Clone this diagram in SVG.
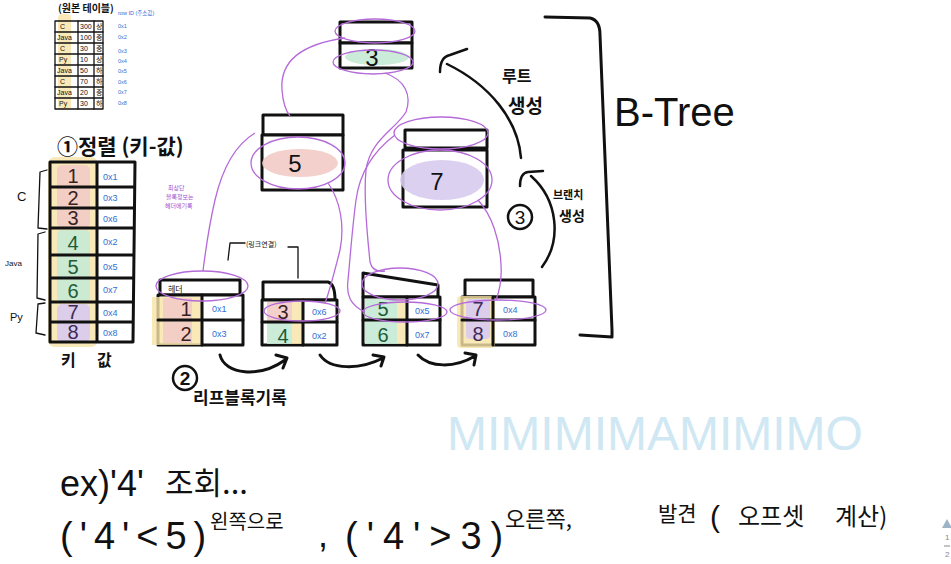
<svg xmlns="http://www.w3.org/2000/svg" width="951" height="564" viewBox="0 0 951 564">
<defs>
<style>
text{font-family:'Liberation Sans','Noto Sans CJK KR',sans-serif;fill:#111}
.ink{fill:none;stroke:#111;stroke-width:3;stroke-linecap:round;stroke-linejoin:round}
.thin{fill:none;stroke:#111;stroke-width:1.3;stroke-linecap:round;stroke-linejoin:round}
.box{fill:#fff;stroke:#111;stroke-width:3;stroke-linejoin:round}
.pl{fill:none;stroke:#b56ad9;stroke-width:1.3}
.yel{fill:#f7e2a6;opacity:.8}
.pink{fill:#f2cbc6;opacity:.9}
.green{fill:#c5ead4;opacity:.9}
.purp{fill:#d8cbef;opacity:.9}
.val{fill:#2f6fd6;font-size:9px}
.key{font-size:20px;text-anchor:middle}
.k1{fill:#3a1f1f}.k2{fill:#1d5c39}.k3{fill:#3c2a57}
.sm{font-size:7px}
.kr{font-family:'Noto Sans CJK KR',sans-serif}
</style>
</defs>
<rect width="951" height="564" fill="#fff"/>

<!-- source table -->
<g id="src-table">
<text x="58" y="12" class="kr" style="font-size:10px;font-weight:bold">(원본 테이블)</text>
<rect class="yel" x="58" y="14" width="13" height="96" rx="4"/>
<rect class="thin" x="55" y="21" width="48" height="88"/>
<path class="thin" d="M78,21V109M94,21V109M55,32H103M55,43H103M55,54H103M55,65H103M55,76H103M55,87H103M55,98H103"/>
<g style="font-size:7px">
<text x="60" y="29">C</text><text x="80" y="29">300</text><text x="96" y="29" class="kr">상</text>
<text x="57" y="40">Java</text><text x="80" y="40">100</text><text x="96" y="40" class="kr">중</text>
<text x="60" y="51">C</text><text x="80" y="51">30</text><text x="96" y="51" class="kr">중</text>
<text x="59" y="62">Py</text><text x="80" y="62">10</text><text x="96" y="62" class="kr">상</text>
<text x="57" y="73">Java</text><text x="80" y="73">50</text><text x="96" y="73" class="kr">하</text>
<text x="60" y="84">C</text><text x="80" y="84">70</text><text x="96" y="84" class="kr">하</text>
<text x="57" y="95">Java</text><text x="80" y="95">20</text><text x="96" y="95" class="kr">중</text>
<text x="59" y="106">Py</text><text x="80" y="106">30</text><text x="96" y="106" class="kr">하</text>
</g>
<g style="fill:#2f6fd6;font-size:5.5px">
<text x="118" y="15" style="fill:#2f6fd6">row ID (주소값)</text>
<text x="118" y="28" style="fill:#2f6fd6">0x1</text><text x="118" y="39" style="fill:#2f6fd6">0x2</text>
<text x="118" y="53" style="fill:#2f6fd6">0x3</text><text x="118" y="63" style="fill:#2f6fd6">0x4</text>
<text x="118" y="73" style="fill:#2f6fd6">0x5</text><text x="118" y="84" style="fill:#2f6fd6">0x6</text>
<text x="118" y="94" style="fill:#2f6fd6">0x7</text><text x="118" y="105" style="fill:#2f6fd6">0x8</text>
</g>
</g>

<!-- sorted key-value table -->
<g id="sorted-table">
<text x="57" y="154" class="kr" style="font-size:21px;font-weight:bold">①정렬 (키-값)</text>
<rect class="yel" x="48" y="157" width="50" height="190" rx="7"/>
<rect class="pink" x="57" y="165" width="33" height="63" rx="5"/>
<rect class="green" x="57" y="230" width="33" height="72" rx="5"/>
<rect class="purp" x="57" y="304" width="33" height="38" rx="5"/>
<path class="ink" d="M50,162H135L133,342H50ZM97,162V342M50,187H134M50,208H133M50,228H133M50,255H133M50,278H133M50,302H133M50,322H133"/>
<text x="73" y="183" class="key k1">1</text>
<text x="73" y="205" class="key k1">2</text>
<text x="73" y="225" class="key k1">3</text>
<text x="73" y="250" class="key k2">4</text>
<text x="73" y="274" class="key k2">5</text>
<text x="73" y="298" class="key k2">6</text>
<text x="73" y="319" class="key k3">7</text>
<text x="73" y="339" class="key k3">8</text>
<text x="103" y="180" class="val">0x1</text>
<text x="103" y="201" class="val">0x3</text>
<text x="103" y="222" class="val">0x6</text>
<text x="103" y="245" class="val">0x2</text>
<text x="103" y="270" class="val">0x5</text>
<text x="103" y="293" class="val">0x7</text>
<text x="103" y="316" class="val">0x4</text>
<text x="103" y="336" class="val">0x8</text>
<path class="thin" d="M47,170L40,172L38,228L47,229M45,232L38,234L37,298L45,300M45,303L38,304L36,333L45,335"/>
<text x="17" y="201" style="font-size:13px">C</text>
<text x="5" y="266" style="font-size:8px">Java</text>
<text x="10" y="321" style="font-size:11px">Py</text>
<text x="61" y="366" class="kr" style="font-size:16px;font-weight:bold">키</text>
<text x="97" y="366" class="kr" style="font-size:16px;font-weight:bold">값</text>
</g>

<!-- leaf nodes -->
<g id="leaf-1">
<rect class="box" x="160" y="280" width="80" height="15"/>
<text x="168" y="292" class="kr" style="font-size:8px">헤더</text>
<rect class="box" x="158" y="295" width="85" height="50"/>
<rect class="yel" x="152" y="297" width="51" height="48"/>
<rect class="pink" x="163" y="298" width="29" height="45"/>
<path class="ink" d="M158,320H243M202,295V345"/>
<text x="186" y="316" class="key k1">1</text>
<text x="186" y="341" class="key k1">2</text>
<text x="212" y="312" class="val">0x1</text>
<text x="212" y="337" class="val">0x3</text>
</g>
<g id="leaf-2">
<path class="box" d="M263,282H328Q335,284 335,300H263Z"/>
<rect class="box" x="262" y="300" width="75" height="45"/>
<rect class="pink" x="267" y="302" width="25" height="19"/>
<rect class="green" x="267" y="323" width="25" height="21"/>
<rect class="yel" x="292" y="302" width="10" height="42"/>
<path class="ink" d="M262,322H337M303,300V345"/>
<text x="283" y="319" class="key k1">3</text>
<text x="283" y="343" class="key k2">4</text>
<text x="312" y="315" class="val">0x6</text>
<text x="312" y="339" class="val">0x2</text>
</g>
<g id="leaf-3">
<path class="box" d="M363,273L438,285V297H363Z"/>
<rect class="box" x="363" y="297" width="77" height="48"/>
<rect class="green" x="365" y="299" width="32" height="45"/>
<rect class="yel" x="397" y="299" width="10" height="45"/>
<path class="ink" d="M363,320H440M407,297V345"/>
<text x="383" y="316" class="key k2">5</text>
<text x="383" y="342" class="key k2">6</text>
<text x="415" y="314" class="val">0x5</text>
<text x="415" y="338" class="val">0x7</text>
</g>
<g id="leaf-4">
<rect class="box" x="465" y="280" width="68" height="17"/>
<rect class="box" x="462" y="297" width="73" height="48"/>
<rect class="yel" x="457" y="296" width="38" height="52" rx="4"/>
<rect class="purp" x="466" y="299" width="24" height="40" rx="4"/>
<path class="ink" d="M462,320H535M493,297V345"/>
<text x="478" y="316" class="key k3">7</text>
<text x="478" y="341" class="key k3">8</text>
<text x="503" y="313" class="val">0x4</text>
<text x="503" y="337" class="val">0x8</text>
</g>

<!-- branch / root nodes -->
<g id="node-root">
<rect class="box" x="340" y="22" width="72" height="21"/>
<rect class="box" x="340" y="43" width="72" height="25"/>
<ellipse cx="377" cy="57" rx="32" ry="8" class="green"/>
<text x="372" y="66" class="key" style="font-size:24px">3</text>
</g>
<g id="node-5">
<rect class="box" x="263" y="115" width="80" height="20"/>
<rect class="box" x="262" y="135" width="81" height="55"/>
<ellipse cx="300" cy="163" rx="38" ry="14" class="pink"/>
<text x="295" y="172" class="key" style="font-size:24px">5</text>
</g>
<g id="node-7">
<path class="box" d="M405,130H487V148H405Z"/>
<rect class="box" x="403" y="150" width="84" height="57"/>
<ellipse cx="442" cy="180" rx="42" ry="20" class="purp"/>
<text x="437" y="190" class="key" style="font-size:24px">7</text>
</g>

<!-- connectors -->
<g id="connectors">
<g class="pl">
<ellipse cx="375" cy="31" rx="40" ry="12"/>
<ellipse cx="373" cy="62" rx="40" ry="12"/>
<ellipse cx="298" cy="163" rx="47" ry="26"/>
<ellipse cx="441" cy="133" rx="47" ry="16"/>
<ellipse cx="440" cy="180" rx="52" ry="30"/>
<ellipse cx="202" cy="286" rx="46" ry="15"/>
<ellipse cx="302" cy="311" rx="38" ry="10"/>
<ellipse cx="400" cy="284" rx="38" ry="16"/>
<ellipse cx="405" cy="312" rx="42" ry="10"/>
<ellipse cx="498" cy="310" rx="48" ry="10"/>
<path d="M345,38C295,45 280,65 282,90C283,103 285,110 290,116"/>
<path d="M255,133C235,145 222,170 215,200C208,230 205,255 203,271"/>
<path d="M328,183C340,200 345,225 340,250C335,270 330,290 325,303"/>
<path d="M385,73C405,80 412,95 406,112C395,130 370,140 366,170C363,200 368,240 370,262C372,270 378,272 385,271"/>
<path d="M395,135C375,150 360,170 356,200C352,230 350,260 348,280C346,295 350,305 365,312"/>
<path d="M478,200C492,215 500,240 501,265C502,280 499,292 496,300"/>
</g>
<path class="ink" d="M220,355C225,375 260,378 285,360M276,355L287,358L283,368"/>
<path class="ink" d="M320,355C330,370 360,370 383,358M373,355L384,357L381,366"/>
<path class="ink" d="M418,355C430,368 455,368 475,356M465,353L476,355L474,365"/>
<path class="ink" style="stroke-width:2.5" d="M521,158C518,120 490,85 447,64M440,72Q440,57 450,55L467,49"/>
<path class="ink" style="stroke-width:2.5" d="M542,267C562,240 558,200 531,176M520,186Q520,173 528,172L543,171"/>
</g>

<!-- labels -->
<g id="labels">
<text x="168" y="190" class="kr" style="font-size:6px;fill:#a24fd0">최상단</text>
<text x="166" y="199" class="kr" style="font-size:6px;fill:#a24fd0">블록정보는</text>
<text x="165" y="208" class="kr" style="font-size:6px;fill:#a24fd0">헤더에기록</text>
<path class="thin" d="M228,260L230,243L245,243M288,247L298,247L298,278"/>
<text x="246" y="247" class="kr" style="font-size:7px">(링크연결)</text>
<circle cx="185" cy="378" r="12" class="ink" style="stroke-width:2.5"/>
<text x="185" y="385" class="key" style="font-size:19px;font-weight:bold">2</text>
<text x="193" y="404" class="kr" style="font-size:17px;font-weight:bold">리프블록기록</text>
<circle cx="520" cy="217" r="12" class="ink" style="stroke-width:2.5"/>
<text x="520" y="224" class="key" style="font-size:19px">3</text>
<text x="502" y="82" class="kr" style="font-size:16px;font-weight:bold">루트</text>
<text x="508" y="113" class="kr" style="font-size:19px;font-weight:bold">생성</text>
<text x="553" y="199" class="kr" style="font-size:11px;font-weight:bold">브랜치</text>
<text x="559" y="221" class="kr" style="font-size:14px;font-weight:bold">생성</text>
<path class="ink" d="M545,17L590,18Q600,20 600,35L612,330L612,337L580,335"/>
<text x="614" y="126" style="font-size:40px">B-Tree</text>
<text x="447" y="450" style="font-size:48px;fill:#cfe8f3">MIMIMIMAMIMIMO</text>
<text x="60" y="496" style="font-size:36px">ex)'4'</text>
<text x="165" y="494" class="kr" style="font-size:31px">조회...</text>
<text x="60" y="549" style="font-size:38px;letter-spacing:7px">('4'&lt;5)</text>
<text x="210" y="529" class="kr" style="font-size:20px">왼쪽으로</text>
<text x="318" y="547" style="font-size:36px">,</text>
<text x="345" y="549" style="font-size:38px;letter-spacing:9px">('4'&gt;3)</text>
<text x="505" y="527" class="kr" style="font-size:22px">오른쪽,</text>
<text x="658" y="521" class="kr" style="font-size:21px">발견</text>
<text x="710" y="527" style="font-size:30px">(</text>
<text x="738" y="525" class="kr" style="font-size:24px">오프셋</text>
<text x="835" y="525" class="kr" style="font-size:24px">계산)</text>
<path d="M942,528L947,519L952,528Z" fill="#9cb4c8"/>
<text x="945" y="540" style="font-size:8px;fill:#888">1</text>
<path d="M944,546H950" stroke="#888" stroke-width="1"/>
<text x="945" y="557" style="font-size:8px;fill:#888">2</text>
</g>
</svg>
